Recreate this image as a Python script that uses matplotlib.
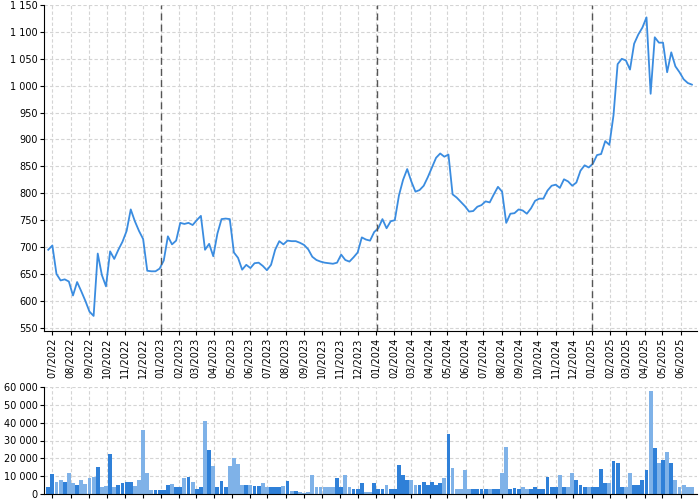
import numpy as np
import pandas as pd
import matplotlib
matplotlib.use('Agg')
from matplotlib import pyplot as plt
import matplotlib.dates as mdates
from matplotlib.ticker import FuncFormatter, MultipleLocator

# weekly closes (first week ending 2022-06-24)
price = [695, 703, 650, 638, 640, 636, 610, 635, 618, 600,
         580, 572, 688, 648, 627, 692, 678, 695, 710, 730,
         770, 748, 730, 715, 656, 655, 655, 660, 675, 720,
         705, 712, 745, 743, 745, 741, 750, 758, 695, 706,
         683, 725, 752, 753, 752, 690, 680, 658, 667, 661,
         670, 671, 665, 657, 667, 695, 711, 705, 712, 711,
         711, 708, 704, 696, 682, 676, 673, 671, 670, 669,
         671, 686, 676, 673, 681, 690, 718, 714, 712, 728,
         735, 752, 735, 748, 750, 796, 825, 845, 822, 803,
         806, 814, 830, 848, 866, 874, 868, 872, 798, 792,
         784, 776, 766, 767, 775, 778, 785, 783, 798, 812,
         803, 745, 762, 763, 770, 768, 762, 772, 786, 790,
         790, 805, 814, 816, 810, 826, 822, 814, 820, 842,
         852, 848, 855, 871, 873, 897, 890, 945, 1040, 1050,
         1047, 1030, 1078, 1095, 1108, 1127, 985, 1090, 1080, 1080,
         1025, 1062, 1036, 1025, 1012, 1005, 1002]

volume = [4000, 11000, 7000, 8000, 6500, 12000, 6000, 5000, 8000, 5500,
          9000, 9500, 15000, 4000, 4500, 22500, 4000, 5000, 6000, 7000,
          7000, 4500, 8000, 36000, 12000, 2500, 2000, 2500, 2500, 5000,
          5500, 4000, 4000, 9000, 9500, 7000, 3000, 4000, 41000, 24500,
          15500, 4000, 7500, 4000, 15500, 20000, 17000, 5000, 5000, 5000,
          4500, 4500, 6000, 4000, 4000, 4000, 4000, 4500, 7500, 1500,
          1500, 1000, 800, 1000, 10500, 4000, 4000, 4000, 4000, 4000,
          8800, 4000, 10700, 4000, 3000, 3000, 6000, 1300, 1300, 6000,
          3000, 3000, 5000, 3000, 3000, 16000, 10700, 8000, 7900, 5000,
          5000, 7000, 5000, 7000, 5000, 6000, 8800, 33500, 14400, 3000,
          3000, 13500, 3000, 3000, 3000, 3000, 3000, 3000, 3000, 3000,
          11600, 26600, 3000, 3500, 3000, 4000, 3000, 3000, 4000, 3000,
          3000, 9800, 4000, 4000, 10700, 4000, 4000, 11600, 8000, 5000,
          4000, 4000, 4000, 4000, 13900, 6000, 6000, 18750, 17250, 4000,
          4000, 11600, 5000, 5000, 8000, 13500, 57600, 25700, 17600, 19000,
          23800, 17600, 8000, 4000, 5000, 4000, 4000]

year_marks = ['2023-01-02', '2024-01-02', '2025-01-02']

dates = pd.date_range('2022-06-24', periods=len(price), freq='7D')

plt.rcParams['font.family'] = 'DejaVu Sans'
plt.rcParams['font.size'] = 7

fig = plt.figure(figsize=(7, 5), dpi=100)
ax = fig.add_axes([0.063, 0.338, 0.933, 0.652])
axv = fig.add_axes([0.063, 0.012, 0.933, 0.214], sharex=ax)

line_col = '#3a8ce0'
grid_kw = dict(color='#d4d4d4', linestyle=(0, (3, 2)), linewidth=0.8)

ax.plot(dates, price, color=line_col, linewidth=1.3)
for d in year_marks:
    ax.axvline(pd.Timestamp(d), color='#555555', linestyle=(0, (5, 3)), linewidth=1, zorder=3)

ax.set_ylim(544, 1150)
ax.yaxis.set_major_locator(MultipleLocator(50))
sep = FuncFormatter(lambda v, p: '{:,.0f}'.format(v).replace(',', ' '))
ax.yaxis.set_major_formatter(sep)
ax.set_xlim(pd.Timestamp('2022-06-17'), pd.Timestamp('2025-06-29'))
ax.xaxis.set_major_locator(mdates.MonthLocator())
ax.xaxis.set_major_formatter(mdates.DateFormatter('%m/%Y'))
plt.setp(ax.get_xticklabels(), rotation=90)

# volume coloured by weekly direction
cols = ['#2f80d8' if i == 0 or price[i] >= price[i - 1] else '#7fb2e8' for i in range(len(price))]
axv.bar(dates, volume, width=6.5, color=cols, linewidth=0)
axv.set_ylim(0, 60000)
axv.yaxis.set_major_locator(MultipleLocator(10000))
axv.yaxis.set_major_formatter(sep)
axv.tick_params(axis='x', labelbottom=False, length=0)

for a in (ax, axv):
    a.grid(True, **grid_kw)
    a.set_axisbelow(True)
    a.spines['top'].set_visible(False)
    a.spines['right'].set_visible(False)
    a.tick_params(length=3, width=0.8, pad=1.5)

plt.savefig('out.png', dpi=100)
